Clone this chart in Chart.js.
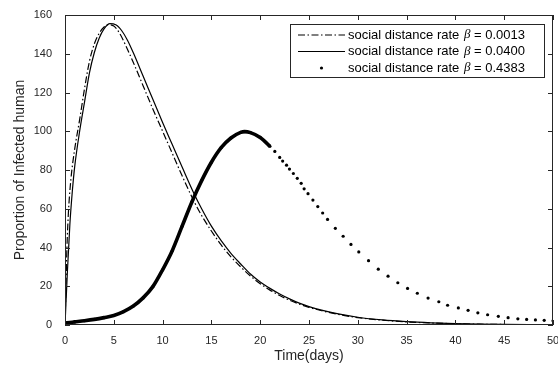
<!DOCTYPE html>
<html>
<head>
<meta charset="utf-8">
<title>Infected human</title>
<script src="https://cdn.jsdelivr.net/npm/chart.js@4.4.0/dist/chart.umd.min.js"></script>
<style>
    html, body { margin: 0; padding: 0; background: #fff; }
    #wrap { width: 558px; height: 365px; }
</style>
</head>
<body>
<div id="wrap"><canvas id="infectedChart" width="558" height="365"></canvas></div>
<script>
// Axis ticks
const xTicks = [0, 5, 10, 15, 20, 25, 30, 35, 40, 45, 50];
const yTicks = [0, 20, 40, 60, 80, 100, 120, 140, 160];

// Legend values (beta)
const betaValues = ['0.0013', '0.0400', '0.4383'];

// beta = 0.0013 (dash-dot)
const tDash = [0, 0.1, 0.2, 0.35, 0.6, 1.0, 1.5, 2.0, 2.5, 3.0, 3.5, 4.0, 4.4, 5.0, 5.6, 6.2, 7, 8, 9, 10, 11, 12, 13.2, 14, 15, 16, 17, 18, 19, 20, 21, 22, 23, 24, 25, 26.5, 28, 30, 32.5, 35, 37.5, 40, 42.5, 45, 47.5, 50];
const iDash = [0, 20, 40, 58, 75, 91, 106, 122, 136, 145, 150.5, 153.8, 155, 154.3, 150.5, 144.5, 135.5, 123.5, 111.5, 100, 88.5, 77, 64, 56.5, 48.5, 41.3, 35.2, 30, 25.3, 21.3, 18, 15.2, 12.8, 10.8, 9.1, 7.1, 5.5, 3.8, 2.5, 1.6, 1.05, 0.65, 0.42, 0.27, 0.18, 0.11];

// beta = 0.0400 (solid)
const tSolid = [0, 0.25, 0.5, 0.75, 1.0, 1.5, 2.0, 2.5, 3.0, 3.5, 4.0, 4.6, 5.2, 5.8, 6.4, 7, 8, 9, 10, 11, 12, 13.2, 14, 15, 16, 17, 18, 19, 20, 21, 22, 23, 24, 25, 26.5, 28, 30, 32.5, 35, 37.5, 40, 42.5, 45, 47.5, 50];
const iSolid = [0, 28, 52, 69, 82, 100, 115, 130, 140.5, 148, 152.8, 155.5, 155, 152, 147, 140.5, 128.5, 116.5, 104.5, 93, 81.5, 68, 60, 51, 43.5, 37, 31.5, 26.3, 22.2, 18.9, 16, 13.5, 11.3, 9.5, 7.4, 5.7, 4, 2.6, 1.7, 1.1, 0.7, 0.45, 0.3, 0.2, 0.12];

// beta = 0.4383 (dots, dense up to about day 21)
const tDots = [0, 0.5, 1, 2, 3, 4, 5, 6, 7, 8, 9, 10, 11, 12, 13, 14, 15, 16, 17, 18, 18.4, 19, 20, 21, 21.5, 22.0, 22.3, 22.7, 23.0, 23.4, 23.8, 24.2, 24.5, 24.9, 25.4, 25.9, 26.4, 26.9, 27.7, 28.5, 29.3, 30.1, 31.1, 32.1, 33.1, 34.1, 35.1, 36.1, 37.2, 38.3, 39.2, 40.3, 41.3, 42.3, 43.3, 44.4, 45.4, 46.4, 47.3, 48.2, 49.1, 50.0];
const iDots = [1.0, 1.3, 1.6, 2.2, 2.9, 3.8, 4.9, 6.9, 9.8, 14.0, 19.8, 28.5, 38.5, 51, 63.5, 74.5, 84, 91.5, 96.5, 99.4, 99.8, 99.3, 96.8, 92.2, 89.6, 86.5, 84.6, 82.5, 80.5, 78.2, 75.7, 73.1, 70.3, 67.8, 64.5, 61.1, 57.8, 54.5, 49.9, 45.8, 41.6, 37.7, 33.2, 28.8, 25.2, 21.8, 18.9, 16.4, 13.9, 12.0, 10.2, 8.8, 7.6, 6.3, 5.3, 4.5, 3.8, 3.2, 2.9, 2.6, 2.4, 2.2];
const denseUntil = 21;

const fontFamily = "'Liberation Sans', Arial, Helvetica, sans-serif";
const axisColor = '#262626';
const dashDot = [7, 2.5, 1.5, 2.5];

function toPoints(ts, vs) {
    return ts.map((t, i) => ({ x: t, y: vs[i] }));
}

// MATLAB-like box with inward ticks on all sides
const axesBox = {
    id: 'axesBox',
    afterDatasetsDraw(chart) {
        const { ctx, chartArea: a, scales: { x, y } } = chart;
        ctx.save();
        ctx.strokeStyle = axisColor;
        ctx.lineWidth = 1;
        ctx.beginPath();
        ctx.rect(a.left + 0.5, a.top + 0.5, a.right - a.left - 1, a.bottom - a.top - 1);
        xTicks.forEach(v => {
            const px = Math.round(x.getPixelForValue(v)) + 0.5;
            ctx.moveTo(px, a.bottom); ctx.lineTo(px, a.bottom - 5);
            ctx.moveTo(px, a.top); ctx.lineTo(px, a.top + 5);
        });
        yTicks.forEach(v => {
            const py = Math.round(y.getPixelForValue(v)) + 0.5;
            ctx.moveTo(a.left, py); ctx.lineTo(a.left + 5, py);
            ctx.moveTo(a.right, py); ctx.lineTo(a.right - 5, py);
        });
        ctx.stroke();
        ctx.restore();
    }
};

// Legend box in the top right corner
const betaLegend = {
    id: 'betaLegend',
    afterDraw(chart) {
        const { ctx, chartArea: a } = chart;
        const w = 254, h = 53;
        const bx = a.right - 9 - w, by = a.top + 9;
        ctx.save();
        ctx.fillStyle = '#fff';
        ctx.fillRect(bx, by, w, h);
        ctx.strokeStyle = axisColor;
        ctx.lineWidth = 1;
        ctx.strokeRect(bx + 0.5, by + 0.5, w, h);

        betaValues.forEach((val, i) => {
            const ry = by + 11 + i * 16.5;
            ctx.strokeStyle = '#000';
            ctx.fillStyle = '#000';
            if (i < 2) {
                ctx.lineWidth = 1.2;
                ctx.setLineDash(i === 0 ? dashDot : []);
                ctx.beginPath();
                ctx.moveTo(bx + 8, ry);
                ctx.lineTo(bx + 55, ry);
                ctx.stroke();
                ctx.setLineDash([]);
            } else {
                ctx.beginPath();
                ctx.arc(bx + 31.5, ry, 1.6, 0, Math.PI * 2);
                ctx.fill();
            }
            let tx = bx + 58;
            ctx.textBaseline = 'middle';
            ctx.font = '13px ' + fontFamily;
            ctx.fillText('social distance rate ', tx, ry);
            tx += ctx.measureText('social distance rate ').width + 1;
            ctx.font = "italic 13px 'Liberation Serif', serif";
            ctx.fillText('\u03B2', tx, ry);
            tx += ctx.measureText('\u03B2').width;
            ctx.font = '13px ' + fontFamily;
            ctx.fillText(' = ' + val, tx, ry);
        });
        ctx.restore();
    }
};

Chart.defaults.font.family = fontFamily;

new Chart(document.getElementById('infectedChart'), {
    type: 'scatter',
    data: {
        datasets: [{
            label: 'social distance rate \u03B2 = ' + betaValues[0],
            data: toPoints(tDash, iDash),
            showLine: true,
            borderColor: '#000',
            borderWidth: 1.2,
            borderDash: dashDot,
            pointRadius: 0,
            cubicInterpolationMode: 'monotone'
        }, {
            label: 'social distance rate \u03B2 = ' + betaValues[1],
            data: toPoints(tSolid, iSolid),
            showLine: true,
            borderColor: '#000',
            borderWidth: 1.2,
            pointRadius: 0,
            cubicInterpolationMode: 'monotone'
        }, {
            label: 'social distance rate \u03B2 = ' + betaValues[2],
            data: toPoints(tDots, iDots),
            showLine: true,
            borderColor: '#000',
            borderWidth: 3.6,
            pointRadius: 1.6,
            pointBorderWidth: 0,
            pointBackgroundColor: '#000',
            cubicInterpolationMode: 'monotone',
            segment: {
                borderColor: ctx => ctx.p0.parsed.x >= denseUntil ? 'rgba(0,0,0,0)' : '#000'
            }
        }]
    },
    options: {
        responsive: false,
        animation: false,
        devicePixelRatio: 1,
        layout: { padding: { top: 15, right: 5, left: 0, bottom: 0 } },
        plugins: {
            legend: { display: false },
            tooltip: { enabled: false }
        },
        scales: {
            x: {
                type: 'linear',
                min: 0,
                max: 50,
                grid: { display: false, drawTicks: false },
                border: { display: false },
                ticks: {
                    padding: 9,
                    color: axisColor,
                    font: { size: 11 },
                    maxRotation: 0,
                    autoSkip: false
                },
                afterBuildTicks: s => { s.ticks = xTicks.map(v => ({ value: v })); },
                afterFit: s => { s.height = 40; s.paddingLeft = 0; s.paddingRight = 0; },
                title: {
                    display: true,
                    text: 'Time(days)',
                    color: axisColor,
                    font: { size: 14 },
                    padding: { top: 0, bottom: 0 }
                }
            },
            y: {
                type: 'linear',
                min: 0,
                max: 160,
                grid: { display: false, drawTicks: false },
                border: { display: false },
                ticks: {
                    padding: 13,
                    color: axisColor,
                    font: { size: 11 },
                    autoSkip: false
                },
                afterBuildTicks: s => { s.ticks = yTicks.map(v => ({ value: v })); },
                afterFit: s => { s.width = 65; s.paddingTop = 0; s.paddingBottom = 0; },
                title: {
                    display: true,
                    text: 'Proportion of Infected human',
                    color: axisColor,
                    font: { size: 14 },
                    padding: { top: 12, bottom: 0 }
                }
            }
        }
    },
    plugins: [axesBox, betaLegend]
});
</script>
</body>
</html>
